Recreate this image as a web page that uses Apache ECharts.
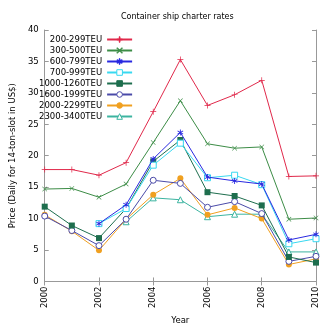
<!DOCTYPE html>
<html><head><meta charset="utf-8">
<script src="https://cdn.jsdelivr.net/npm/echarts@6/dist/echarts.min.js"></script>
<style>html,body{margin:0;padding:0;background:#fff}#c{width:330px;height:330px}</style>
</head><body><div id="c"></div>
<script>
var years = [2000,2001,2002,2003,2004,2005,2006,2007,2008,2009,2010];
var seriesNames = ['200-299TEU','300-500TEU','600-799TEU','700-999TEU','1000-1260TEU','1600-1999TEU','2000-2299TEU','2300-3400TEU'];
var s200 = [17.8,17.8,16.9,18.9,27.0,35.3,28.0,29.7,32.0,16.7,16.8];
var s300 = [14.7,14.8,13.4,15.5,22.1,28.75,21.9,21.2,21.4,9.9,10.1];
var s600 = [null,null,9.2,12.2,19.5,23.7,16.6,16.0,15.5,6.6,7.5];
var s700 = [null,null,9.2,11.6,18.5,22.0,16.5,16.9,15.4,6.0,6.8];
var s1000 = [11.9,8.9,6.9,11.6,19.1,22.5,14.2,13.6,12.1,3.9,3.0];
var s1600 = [10.4,8.1,5.7,9.9,16.1,15.6,11.8,12.7,10.8,3.2,4.0];
var s2000 = [10.6,8.0,4.95,9.9,13.8,16.4,10.6,11.7,10.0,2.7,3.6];
var s2300 = [null,null,null,9.5,13.3,13.0,10.3,10.7,10.7,4.7,4.7];
var allData = [s200,s300,s600,s700,s1000,s1600,s2000,s2300];
var colors = ['#e0284a','#3c8c46','#2828e0','#38d8f0','#1e6e4e','#4a4aa8','#f0a020','#3cb4a0'];
var plus = 'path://M4.4,0H5.6V4.4H10V5.6H5.6V10H4.4V5.6H0V4.4H4.4Z';
var cross = 'path://M0.8,0L5,4.2L9.2,0L10,0.8L5.8,5L10,9.2L9.2,10L5,5.8L0.8,10L0,9.2L4.2,5L0,0.8Z';
var star = 'path://M4.4,0H5.6V3.6L8.6,1.8L9.2,2.8L6.2,5L9.2,7.2L8.6,8.2L5.6,6.4V10H4.4V6.4L1.4,8.2L0.8,7.2L3.8,5L0.8,2.8L1.4,1.8L4.4,3.6Z';
var symbols = [plus, cross, star, 'rect', 'rect', 'circle', 'circle', 'triangle'];
var empty = [false,false,false,true,false,true,false,true];
var sizes = [6,5,6,6,6,6,6,6];
var series = seriesNames.map(function(n,i){
  var d = years.map(function(y,k){ return allData[i][k]==null?null:[y, allData[i][k]]; }).filter(function(p){return p;});
  return {
    name:n, type:'line', data:d, symbol:symbols[i], symbolSize:sizes[i],
    lineStyle:{width:1,color:colors[i]},
    itemStyle: empty[i] ? {color:'#ffffff', borderColor:colors[i], borderWidth:1} : {color:colors[i], borderColor:colors[i], borderWidth:0},
    emphasis:{disabled:true}, animation:false, z: 10-i
  };
});
var chart = echarts.init(document.getElementById('c'));
chart.setOption({
  animation:false,
  color: colors,
  title:{text:'Container ship charter rates', left:116, top:8, textStyle:{fontFamily:'DejaVu Sans', fontSize:8, fontWeight:'normal', color:'#000'}},
  legend:{orient:'vertical', left:34, top:30, align:'right', itemGap:2, itemWidth:25, itemHeight:7,
    itemStyle:{borderWidth:1},
    textStyle:{fontFamily:'DejaVu Sans', fontSize:8.5, color:'#000', width:58, align:'right', padding:[0,0,0,0]},
    data: seriesNames},
  grid:{left:35, right:14, top:30, bottom:45},
  xAxis:[{type:'value', min:2000, max:2010, interval:2, name:'Year', nameLocation:'middle', nameGap:33,
    nameTextStyle:{fontFamily:'DejaVu Sans', fontSize:8.5, color:'#000'},
    axisLine:{lineStyle:{color:'#999'}}, axisTick:{inside:true, length:4, lineStyle:{color:'#999'}},
    axisLabel:{rotate:90, fontFamily:'DejaVu Sans', fontSize:8.5, color:'#000', formatter:function(v){return String(v);}, margin:5},
    splitLine:{show:false}},
   {type:'value', position:'top', min:2000, max:2010, interval:2, axisLine:{show:true,lineStyle:{color:'#999'}}, axisTick:{show:true, inside:true, length:4, lineStyle:{color:'#999'}}, axisLabel:{show:false}, splitLine:{show:false}}],
  yAxis:[{type:'value', min:0, max:40, interval:5, name:'Price (Daily for 14-ton-slot in US$)', nameLocation:'middle', nameGap:24,
    nameTextStyle:{fontFamily:'DejaVu Sans', fontSize:8.5, color:'#000'},
    axisLine:{show:true, lineStyle:{color:'#999'}}, axisTick:{show:true, inside:true, length:4, lineStyle:{color:'#999'}},
    axisLabel:{fontFamily:'DejaVu Sans', fontSize:8.5, color:'#000', margin:6}, splitLine:{show:false}},
   {type:'value', position:'right', min:0, max:40, interval:5, axisLine:{show:true,lineStyle:{color:'#999'}}, axisTick:{show:true, inside:true, length:4, lineStyle:{color:'#999'}}, axisLabel:{show:false}, splitLine:{show:false}}],
  series: series
});
</script></body></html>
